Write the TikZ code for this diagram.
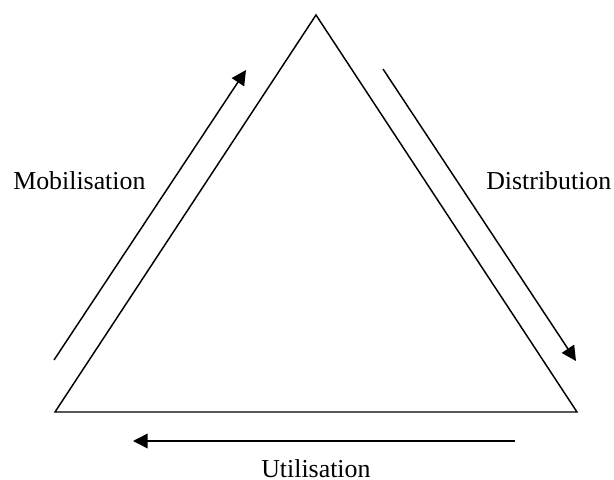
\documentclass[tikz,border=0pt]{standalone}
\usepackage{fontspec}
\setmainfont{Liberation Serif}
\usetikzlibrary{arrows.meta}

\tikzstyle{side} = [line width=1.1pt, line join=miter]
\tikzstyle{arrow} = [line width=1.1pt, -{Triangle[length=11pt,width=11pt]}]
\tikzstyle{flowtext} = [font=\fontsize{19.4pt}{23pt}\selectfont, inner sep=0pt, anchor=base west]

\begin{document}
\begin{tikzpicture}[x=0.75pt, y=-0.75pt]
\useasboundingbox (0,0) rectangle (614,479);
 %三角形顶点
\coordinate (Top) at (316,15);
\coordinate (Left) at (55,412);
\coordinate (Right) at (577,412);

%箭头端点
\coordinate (MobS) at (54,360);
\coordinate (MobE) at (246,70);
\coordinate (DisS) at (383,69);
\coordinate (DisE) at (576,361);
\coordinate (UtiS) at (515,441);
\coordinate (UtiE) at (133,441);

%标签
\node (Mob) [flowtext] at (13,189) {Mobilisation};
\node (Dis) [flowtext] at (486,189) {Distribution};
\node (Uti) [flowtext] at (261,477) {Utilisation};

%三角形
\draw [side](Top) -- (Right) -- (Left) -- cycle;

%箭头
\draw [arrow](MobS) -- (MobE);
\draw [arrow](DisS) -- (DisE);
\draw [arrow](UtiS) -- (UtiE);

\end{tikzpicture}
\end{document}
